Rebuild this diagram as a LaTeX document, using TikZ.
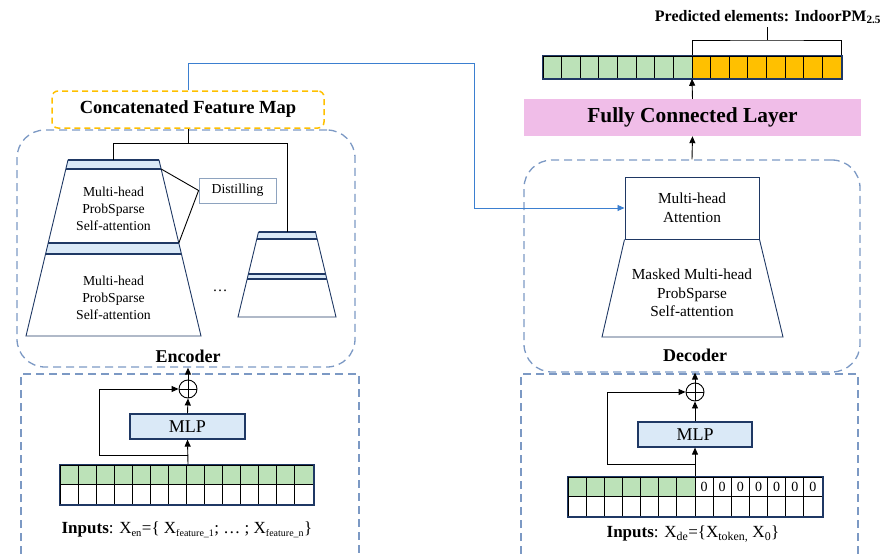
\documentclass[tikz,border=0pt]{standalone}
\usepackage{fontspec}
\setmainfont{Liberation Serif}
\usetikzlibrary{calc,positioning,arrows.meta}
\definecolor{framec}{HTML}{7C99C4}
\definecolor{catc}{HTML}{FFC000}
\definecolor{navy}{HTML}{1F3864}
\definecolor{bandc}{HTML}{DAE9F7}
\definecolor{greenc}{HTML}{BCE2B8}
\definecolor{pinkc}{HTML}{F0BDE8}
\definecolor{linkc}{HTML}{3B7FD0}
\definecolor{distc}{HTML}{8EA3BF}
\tikzset{
  wire/.style={line width=0.9pt},
  arr/.style={wire, -{Triangle[length=7pt,width=6pt]}},
  bluearr/.style={draw=linkc, line width=0.9pt, -{Triangle[length=7pt,width=6pt]}},
  frame/.style={draw=framec, line width=1.3pt, dash pattern=on 8pt off 5pt},
  catbox/.style={draw=catc, line width=1.5pt, dash pattern=on 6pt off 4pt, rounded corners=6pt,
    minimum width=272pt, minimum height=37pt, font=\fontsize{18.5}{20}\selectfont\bfseries},
  band/.style={fill=bandc},
  side/.style={draw=navy, line width=0.9pt},
  bandline/.style={draw=navy, line width=1.8pt},
  layertxt/.style={align=center, font=\fontsize{13.7}{17}\selectfont},
  dectxt/.style={align=center, font=\fontsize{15.3}{18.5}\selectfont},
  distbox/.style={draw=distc, line width=0.8pt, minimum width=77pt, minimum height=25pt,
    font=\fontsize{13.7}{16}\selectfont},
  attbox/.style={draw=navy, line width=1pt, minimum width=134pt, minimum height=62pt, align=center,
    font=\fontsize{15.3}{18.5}\selectfont},
  mlpbox/.style={draw=navy, fill=bandc, line width=1.2pt, minimum height=25pt,
    font=\fontsize{18}{20}\selectfont},
  addop/.style={circle, draw, line width=0.9pt, minimum size=18pt, inner sep=0pt,
    path picture={\draw[line width=0.9pt] (path picture bounding box.north) -- (path picture bounding box.south)
      (path picture bounding box.west) -- (path picture bounding box.east);}},
  cell/.style={draw=black, line width=0.9pt},
  gridbox/.style={draw=navy, line width=1.5pt, inner sep=0pt},
  partlbl/.style={font=\fontsize{18}{20}\selectfont\bfseries},
  inlbl/.style={font=\fontsize{17}{20}\selectfont},
  zero/.style={font=\fontsize{14}{16}\selectfont},
  fclbox/.style={fill=pinkc, minimum width=337pt, minimum height=37pt, font=\fontsize{21.4}{23}\selectfont\bfseries}
}

\begin{document}
\begin{tikzpicture}[x=1pt,y=-1pt]
  \useasboundingbox (0,0) rectangle (884,554);

  % ---------------- encoder side ----------------
  \node[frame, rounded corners=28pt, minimum width=338pt, minimum height=237pt] (encbox) at (186,248.5) {};
  \node[catbox, fill=white] (cat) at (188,109.5) {Concatenated Feature Map};

  % first stack
  \fill[band] (68,160) -- (159,160) -- (161.15,169) -- (65.85,169) -- cycle;
  \fill[band] (48.2,243) -- (178.8,243) -- (181.4,254) -- (45.6,254) -- cycle;
  \draw[side] (68,160) -- (26,336) -- (201,336) -- (159,160) -- cycle;
  \draw[bandline] (68,160) -- (159,160) (65.85,169) -- (161.15,169)
                  (48.2,243) -- (178.8,243) (45.6,254) -- (181.4,254);
  \coordinate (eTopA) at (113.5,160);
  \coordinate (eCornA) at (161.15,169);
  \coordinate (eCornB) at (178.8,243);
  \node[layertxt] (attA) at (113.5,209) {Multi-head\\ProbSparse\\Self-attention};
  \node[layertxt] (attB) at (113.5,298) {Multi-head\\ProbSparse\\Self-attention};

  % second stack
  \fill[band] (258.5,232) -- (315.5,232) -- (317.2,239) -- (256.8,239) -- cycle;
  \fill[band] (248.4,274) -- (325.6,274) -- (326.8,279) -- (247.2,279) -- cycle;
  \draw[side] (258.5,232) -- (238,317) -- (336,317) -- (315.5,232) -- cycle;
  \draw[bandline] (258.5,232) -- (315.5,232) (256.8,239) -- (317.2,239)
                  (248.4,274) -- (325.6,274) (247.2,279) -- (326.8,279);
  \coordinate (eTopB) at (287,232);
  \node[font=\fontsize{15}{16}\selectfont] (dots) at (220,291) {\dots};

  \node[distbox] (dist) at (237.5,190.5) {Distilling};
  \draw[wire] (eCornA) -- (dist.west) -- (eCornB);

  \coordinate (split) at (188,143);
  \draw[wire] (cat.south) -- (split);
  \draw[wire] (split) -| (eTopA);
  \draw[wire] (split) -| (eTopB);

  \node[partlbl] (enclbl) at (188,356) {Encoder};

  % encoder embedding
  \draw[frame] (21,554) |- (359,374) -- (359,554);
  \node[addop] (addE) at (188,389) {};
  \draw[arr] (addE.north) -- (addE |- encbox.south);
  \node[mlpbox, minimum width=115pt] (mlpE) at (187.5,426.5) {MLP};
  \draw[arr] (mlpE.north) -- (addE.south);
  \node[gridbox, minimum width=253pt, minimum height=39pt] (gridE) at (186.5,484.5) {};
  \foreach \i in {0,...,13} {
    \draw[cell, fill=greenc] (60+\i*18.0714,465) rectangle ++(18.0714,19.5);
    \draw[cell, fill=white] (60+\i*18.0714,484.5) rectangle ++(18.0714,19.5);
  }
  \draw[gridbox] (gridE.north west) rectangle (gridE.south east);
  \coordinate (tapE) at (188,455);
  \coordinate (skipE) at (99,455);
  \draw[arr] (addE |- gridE.north) -- (mlpE.south);
  \draw[arr] (tapE) -- (skipE) |- (addE.west);
  \node[inlbl] (inE) at (187,530)
    {\textbf{Inputs}: X\textsubscript{\fontsize{10.5}{11}\selectfont en}=\{ X\textsubscript{\fontsize{10}{11}\selectfont feature\_1}; \dots\ ; X\textsubscript{\fontsize{10}{11}\selectfont feature\_n}\}};

  % ---------------- decoder side ----------------
  \node[frame, rounded corners=28pt, minimum width=336pt, minimum height=212pt] (decbox) at (692,266) {};
  \node[attbox] (mha) at (692,208) {Multi-head\\Attention};
  \draw[side] (mha.south west) -- (602,337) -- (783,337) -- (mha.south east);
  \node[dectxt] (mask) at (692,293) {Masked Multi-head\\ProbSparse\\Self-attention};
  \node[partlbl] (declbl) at (695,355) {Decoder};

  \coordinate (linkTurn) at (474,63);
  \draw[bluearr] (cat.north) |- (linkTurn) |- (mha.west);

  \node[fclbox] (fc) at (692.5,117.5) {Fully Connected Layer};
  \draw[arr] (decbox.north) -- (fc.south);

  % output sequence
  \node[gridbox, minimum width=298pt, minimum height=22pt] (outG) at (692,67) {};
  \foreach \i in {0,...,7} {
    \draw[cell, fill=greenc] (543+\i*18.625,56) rectangle ++(18.625,22);
    \draw[cell, fill=catc] (692+\i*18.625,56) rectangle ++(18.625,22);
  }
  \draw[gridbox] (outG.north west) rectangle (outG.south east);
  \draw[arr] (fc.north) -- (outG.south);
  \coordinate (brk) at (767,40);
  \draw[wire] (outG.north) |- (brk) -| (outG.north east);
  \node[font=\fontsize{16}{18}\selectfont\bfseries] (pred) at (768,17) {Predicted elements: IndoorPM\textsubscript{2.5}};
  \draw[wire] (brk) -- (brk |- pred.south);

  % decoder embedding
  \draw[frame] (521,554) |- (858,374) -- (858,554);
  \node[addop] (addD) at (695,392) {};
  \draw[arr] (addD.north) -- (addD |- decbox.south);
  \node[mlpbox, minimum width=114pt] (mlpD) at (695,434.5) {MLP};
  \draw[arr] (mlpD.north) -- (addD.south);
  \node[gridbox, minimum width=254pt, minimum height=39pt] (gridD) at (695,496.5) {};
  \foreach \i in {0,...,13} {
    \draw[cell, fill=white] (568+\i*18.143,496.5) rectangle ++(18.143,19.5);
  }
  \foreach \i in {0,...,6} {
    \draw[cell, fill=greenc] (568+\i*18.143,477) rectangle ++(18.143,19.5);
    \draw[cell, fill=white] (695+\i*18.143,477) rectangle ++(18.143,19.5);
    \node[zero] (z\i) at (704.07+\i*18.143,486.5) {0};
  }
  \draw[gridbox] (gridD.north west) rectangle (gridD.south east);
  \coordinate (tapD) at (695,464);
  \coordinate (skipD) at (607,464);
  \draw[arr] (addD |- gridD.north) -- (mlpD.south);
  \draw[arr] (tapD) -- (skipD) |- (addD.west);
  \node[inlbl] (inD) at (693,534)
    {\textbf{Inputs}: X\textsubscript{de}=\{X\textsubscript{token,} X\textsubscript{0}\}};
\end{tikzpicture}
\end{document}
